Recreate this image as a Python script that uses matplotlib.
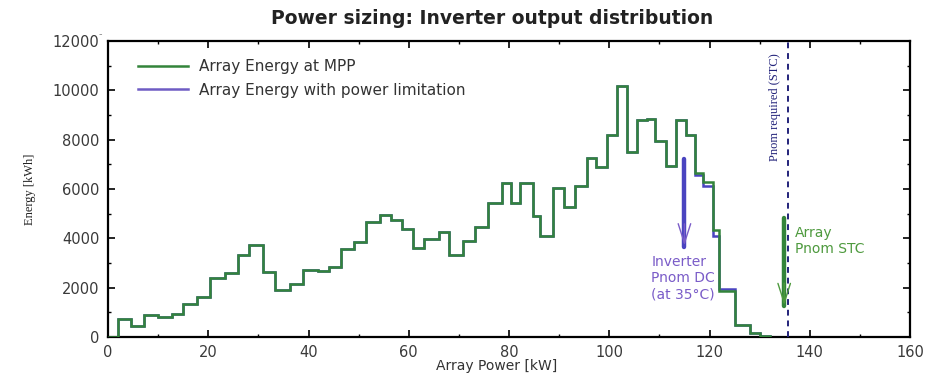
import matplotlib
matplotlib.use("Agg")
import matplotlib.pyplot as plt
from matplotlib.lines import Line2D

# ---- data ----
bin_edges_kw = [0, 2.0, 4.5, 7.1, 10.0, 12.7, 15.0, 17.8, 20.4, 23.4,
                26.0, 28.2, 31.0, 33.3, 36.3, 39.0, 41.8, 44.1, 46.4, 49.1,
                51.4, 54.3, 56.5, 58.7, 60.8, 63.1, 66.0, 68.1, 70.8, 73.3,
                75.9, 78.6, 80.3, 82.1, 84.7, 86.2, 88.7, 90.9, 93.1, 95.5,
                97.3, 99.6, 101.6, 103.6, 105.5, 107.5, 109.2, 111.4, 113.3, 115.3,
                117.2, 118.8, 120.6, 121.8, 125.1, 128.0, 130.1, 132.1]

energy_mpp = [0, 720, 440, 890, 830, 950, 1320, 1630, 2390, 2590,
              3330, 3730, 2650, 1900, 2150, 2720, 2680, 2850, 3580, 3870,
              4650, 4950, 4740, 4370, 3610, 3960, 4270, 3320, 3900, 4470,
              5440, 6230, 5430, 6230, 4890, 4080, 6030, 5280, 6140, 7240,
              6900, 8170, 10160, 7480, 8780, 8820, 7950, 6930, 8810, 8190,
              6640, 6280, 4340, 1880, 490, 150, 50]

energy_limited = [0, 720, 440, 890, 830, 950, 1320, 1630, 2390, 2590,
                  3330, 3730, 2650, 1900, 2150, 2720, 2680, 2850, 3580, 3870,
                  4650, 4950, 4740, 4370, 3610, 3960, 4270, 3320, 3900, 4470,
                  5440, 6230, 5430, 6230, 4890, 4080, 6030, 5280, 6140, 7240,
                  6900, 8170, 10160, 7480, 8780, 8820, 7950, 6930, 8810, 8190,
                  6560, 6120, 4080, 1930, 490, 150, 50]

inverter_pnom_dc = 115.0
array_pnom_stc = 134.9
pnom_required = 135.7

series_labels = ["Array Energy at MPP", "Array Energy with power limitation"]

green = "#33843a"
blue = "#4a44c0"
purple_legend = "#6e5cc4"
purple_text = "#7a5cc8"
green_text = "#4e9a3e"
navy = "#22227a"

plt.rcParams["font.family"] = ["DejaVu Sans"]

fig = plt.figure(figsize=(9.34, 3.74), dpi=100)
ax = fig.add_axes([108 / 934, 1 - 337 / 374, (910 - 108) / 934, (337 - 41) / 374])

ax.stairs(energy_limited, bin_edges_kw, baseline=0, color=blue, lw=1.8, zorder=2)
ax.stairs(energy_mpp, bin_edges_kw, baseline=0, color=green, lw=1.8, zorder=3)

ax.set_xlim(0, 160)
ax.set_ylim(0, 12000)
ax.set_xticks(range(0, 161, 20))
ax.set_xticks(range(0, 161, 10), minor=True)
ax.set_yticks(range(0, 12001, 2000))
ax.set_yticks(range(0, 12001, 1000), minor=True)
ax.tick_params(which="both", direction="in", top=True, right=True,
               labelsize=10.5, labelcolor="#3a3a3a")
ax.tick_params(which="major", length=5, width=1.2, pad=6)
ax.tick_params(which="minor", length=2.5, width=1.0)
for s in ax.spines.values():
    s.set_linewidth(1.6)

# dashed required line
ax.axvline(pnom_required, color=navy, lw=1.4, ls=(0, (3, 2.5)), zorder=4)
ax.text(pnom_required - 2.6, 9320, "Pnom required (STC)", rotation=90,
        ha="center", va="center", fontsize=9, color=navy,
        family="Liberation Serif")

# inverter arrow
ax.plot([inverter_pnom_dc, inverter_pnom_dc], [7200, 3650], color=blue, lw=3.2,
        solid_capstyle="round", zorder=5)
ax.annotate("", xy=(inverter_pnom_dc, 3600), xytext=(inverter_pnom_dc, 4700),
            arrowprops=dict(arrowstyle="->,head_length=1.4,head_width=0.45",
                            color=purple_text, lw=1.0), zorder=5)
ax.text(108.4, 3330, "Inverter\nPnom DC\n(at 35°C)", ha="left", va="top",
        fontsize=10, color=purple_text, linespacing=1.2)

# array arrow
ax.plot([array_pnom_stc, array_pnom_stc], [4820, 1250], color=green, lw=3.2,
        solid_capstyle="round", zorder=5)
ax.annotate("", xy=(array_pnom_stc, 1180), xytext=(array_pnom_stc, 2300),
            arrowprops=dict(arrowstyle="->,head_length=1.4,head_width=0.45",
                            color=green_text, lw=1.0), zorder=5)
ax.text(137.1, 4520, "Array\nPnom STC", ha="left", va="top",
        fontsize=10, color=green_text, linespacing=1.2)

# legend
handles = [Line2D([], [], color=green, lw=1.8),
           Line2D([], [], color=purple_legend, lw=1.8)]
leg = ax.legend(handles, series_labels, loc="upper left",
                bbox_to_anchor=(0.02, 0.985), frameon=False, fontsize=11,
                handlelength=3.3, handletextpad=0.7, labelspacing=0.55)
for t in leg.get_texts():
    t.set_color("#333333")

# labels
ax.text(0.485, -0.075, "Array Power [kW]", transform=ax.transAxes,
        ha="center", va="top", fontsize=10, color="#333333")
ax.text(-0.097, 0.5, "Energy [kWh]", transform=ax.transAxes, rotation=90,
        ha="center", va="center", fontsize=9, color="#222222",
        family="Liberation Serif")

fig.text(492 / 934, 1 - 19 / 374, "Power sizing: Inverter output distribution",
         ha="center", va="center", fontsize=13.5, fontweight="bold",
         color="#222222")
fig.text(100 / 934, 1 - 34 / 374, "-", ha="center", va="center",
         fontsize=7, color="#888888")

fig.savefig("out.png", dpi=100)
